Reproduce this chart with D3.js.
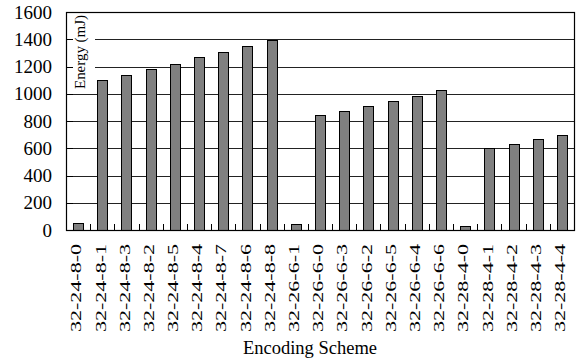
<!DOCTYPE html>
<html>
<head>
<meta charset="utf-8">
<script src="https://cdn.jsdelivr.net/npm/d3@7/dist/d3.min.js"></script>
</head>
<body style="margin:0">
<svg id="chart" width="579" height="362"></svg>
<script>
const categories = [
  "32-24-8-0","32-24-8-1","32-24-8-3","32-24-8-2","32-24-8-5","32-24-8-4","32-24-8-7","32-24-8-6","32-24-8-8",
  "32-26-6-1","32-26-6-0","32-26-6-3","32-26-6-2","32-26-6-5","32-26-6-4","32-26-6-6",
  "32-28-4-0","32-28-4-1","32-28-4-2","32-28-4-3","32-28-4-4"
];
const energy = [
  55, 1100, 1140, 1180, 1222, 1270, 1305, 1347, 1392,
  45, 842, 876, 910, 946, 985, 1025,
  30, 600, 634, 665, 697
];
const yTicks = [0, 200, 400, 600, 800, 1000, 1200, 1400, 1600];
const yLabel = "Energy (mJ)";
const xLabel = "Encoding Scheme";

const FONT = "Liberation Serif";
const svg = d3.select("#chart");
const pLeft = 66, pRight = 574, pTop = 12, pBottom = 230;

const x = d3.scaleBand().domain(categories).range([pLeft, pRight]).paddingInner(0).paddingOuter(0);
const y = d3.scaleLinear().domain([0, 1600]).range([pBottom, pTop]);
const barW = 10;

// gridlines
svg.append("g").selectAll("line").data(yTicks.filter(d => d > 0))
  .join("line")
  .attr("x1", pLeft).attr("x2", pRight)
  .attr("y1", d => Math.round(y(d)) + 0.5).attr("y2", d => Math.round(y(d)) + 0.5)
  .attr("stroke", d => d === 1600 ? "#000" : "#222").attr("stroke-width", 1);

// white box behind the y-axis title
svg.append("rect").attr("x", 73).attr("y", pTop + 1).attr("width", 22).attr("height", 78).attr("fill", "#fff");

// short inward ticks on the y axis
svg.append("g").selectAll("line").data(yTicks)
  .join("line")
  .attr("x1", pLeft).attr("x2", pLeft + 7)
  .attr("y1", d => Math.round(y(d)) + 0.5).attr("y2", d => Math.round(y(d)) + 0.5)
  .attr("stroke", "#000");

// bars
svg.append("g").selectAll("rect").data(categories)
  .join("rect")
  .attr("x", d => Math.round(x(d) + (x.bandwidth() - barW) / 2) + 0.5)
  .attr("y", (d, i) => Math.round(y(energy[i])) + 0.5)
  .attr("width", barW)
  .attr("height", (d, i) => Math.round(y(0)) - Math.round(y(energy[i])))
  .attr("fill", "#808080")
  .attr("stroke", "#000").attr("stroke-width", 1);

// x ticks (upward, at band boundaries)
const bounds = categories.slice(1).map(c => x(c));
svg.append("g").selectAll("line").data(bounds)
  .join("line")
  .attr("x1", d => Math.round(d) + 0.5).attr("x2", d => Math.round(d) + 0.5)
  .attr("y1", pBottom).attr("y2", pBottom - 6)
  .attr("stroke", "#000");

// frame
svg.append("rect")
  .attr("x", pLeft + 0.5).attr("y", Math.round(pTop) + 0.5)
  .attr("width", pRight - pLeft).attr("height", Math.round(pBottom) - Math.round(pTop))
  .attr("fill", "none").attr("stroke", "#000").attr("stroke-width", 1.2);

// y tick labels
svg.append("g").selectAll("text").data(yTicks)
  .join("text")
  .attr("x", 52).attr("y", d => y(d)).attr("dy", "0.35em")
  .attr("text-anchor", "end").attr("font-size", 19)
  .style("font-family", FONT)
  .text(d => d);

// x tick labels
svg.append("g").selectAll("text").data(categories)
  .join("text")
  .attr("transform", d => `translate(${x(d) + x.bandwidth() / 2 - 2},244) rotate(-90)`)
  .attr("dy", "0.35em")
  .attr("text-anchor", "end").attr("font-size", 15)
  .attr("textLength", 88).attr("lengthAdjust", "spacingAndGlyphs")
  .style("font-family", FONT)
  .text(d => d);

// y axis title inside plot
svg.append("text")
  .attr("transform", "translate(85,89) rotate(-90)")
  .attr("text-anchor", "start").attr("font-size", 14)
  .attr("textLength", 74).attr("lengthAdjust", "spacingAndGlyphs")
  .style("font-family", FONT)
  .text(yLabel);

// x axis title
svg.append("text")
  .attr("x", 310).attr("y", 354)
  .attr("text-anchor", "middle").attr("font-size", 18.5)
  .style("font-family", FONT)
  .text(xLabel);
</script>
</body>
</html>
